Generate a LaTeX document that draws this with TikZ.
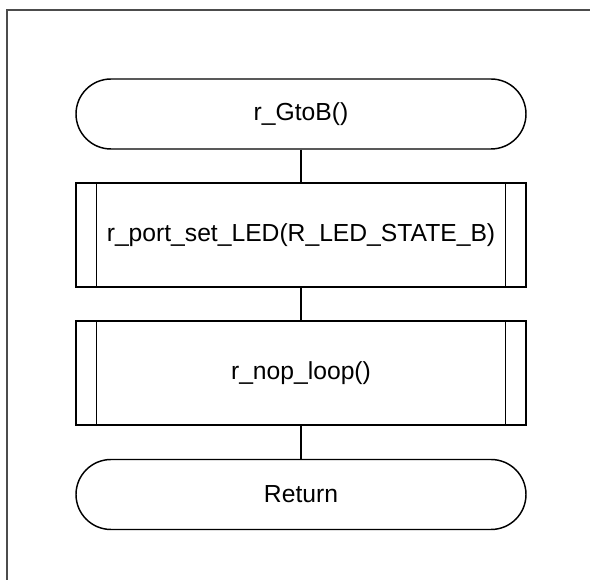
\documentclass[tikz,border=0pt]{standalone}
\usepackage{fontspec}
\setmainfont{Liberation Sans}
\begin{document}
\begin{tikzpicture}[x=0.75pt,y=-0.75pt,
  every node/.style={font=\fontsize{18.5pt}{22pt}\selectfont, inner sep=0pt},
  flowline/.style={draw=black, line width=1.1pt},
  terminal/.style={flowline, rectangle, rounded corners=26.25pt,
    minimum width=337.5pt, minimum height=52.5pt},
  subproc/.style={flowline, rectangle, minimum width=337.5pt, minimum height=78pt},
  frameline/.style={draw=black!70, line width=1.1pt}]
\useasboundingbox (0,0) rectangle (590,580);
% outer frame (top and left edges inside the page)
\coordinate (fbl) at (7,585);
\coordinate (ftl) at (7,10);
\coordinate (ftr) at (595,10);
\draw[frameline] (fbl) -- (ftl) -- (ftr);

\node[terminal] (start) at (301,114) {r\_GtoB()};
\node[subproc] (led) at (301,235) {r\_port\_set\_LED(R\_LED\_STATE\_B)};
\node[subproc] (nop) at (301,373) {r\_nop\_loop()};
\node[terminal] (ret) at (301,494.5) {Return};

% inner bars of the predefined-process boxes
\foreach \n in {led,nop}{
  \draw[flowline] ([xshift=15.75pt]\n.north west) -- ([xshift=15.75pt]\n.south west);
  \draw[flowline] ([xshift=-15.75pt]\n.north east) -- ([xshift=-15.75pt]\n.south east);
}

\draw[flowline] (start) -- (led);
\draw[flowline] (led) -- (nop);
\draw[flowline] (nop) -- (ret);
\end{tikzpicture}
\end{document}
